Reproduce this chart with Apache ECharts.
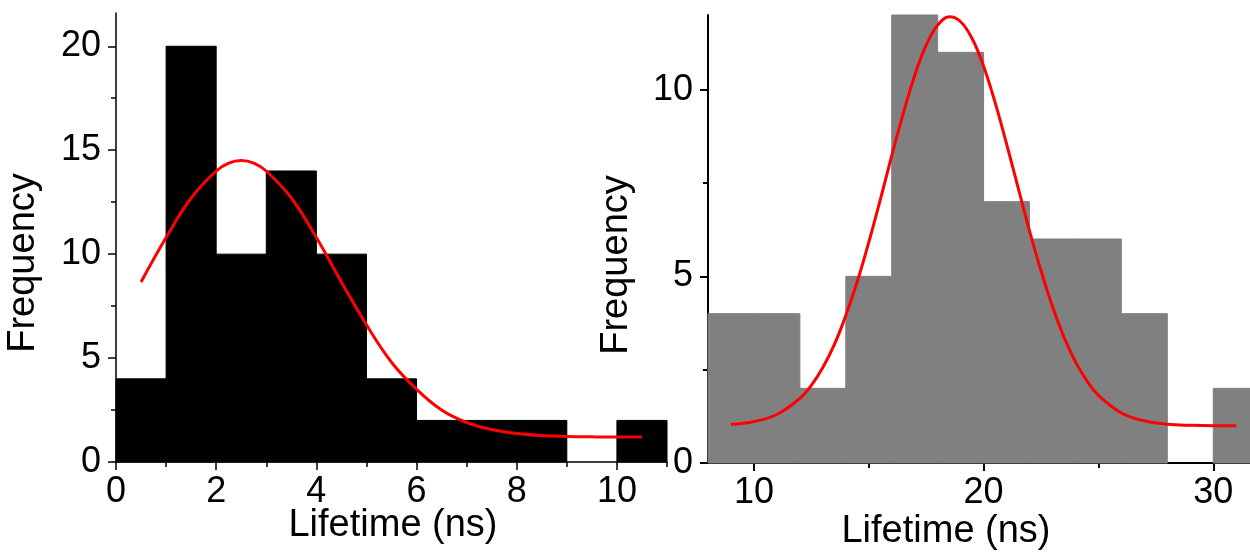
<!DOCTYPE html>
<html>
<head>
<meta charset="utf-8">
<script src="https://cdn.jsdelivr.net/npm/echarts@6/dist/echarts.min.js"></script>
<style>
html, body { margin: 0; padding: 0; background: #fff; }
#chart { width: 1250px; height: 554px; }
</style>
</head>
<body>
<div id="chart"></div>
<script>
'use strict';
// left histogram: bin edges and counts
var leftEdges = [0, 1, 2, 3, 4, 5, 6, 7, 8, 9, 10, 11];
var leftCounts = [4, 20, 10, 14, 10, 4, 2, 2, 2, 0, 2];
// right histogram
var rightEdges = [8, 10, 12, 14, 16, 18, 20, 22, 24, 26, 28, 30, 32];
var rightCounts = [4, 4, 2, 5, 12, 11, 7, 6, 6, 4, 0, 2];

// fitted curves
var leftFitX = [0.5, 1, 1.5, 2, 2.25, 2.5, 2.75, 3, 3.5, 4, 4.5, 5, 5.5, 6, 6.5, 7, 7.5, 8, 8.5, 9, 9.5, 10, 10.5];
var leftFitY = [8.66, 10.8, 12.7, 14.0, 14.38, 14.5, 14.38, 14.0, 12.7, 10.8, 8.66, 6.6, 4.8, 3.5, 2.5, 1.9, 1.56, 1.37, 1.27, 1.23, 1.21, 1.2, 1.2];
var rightFitX = [9, 10, 11, 12, 12.5, 13, 13.5, 14, 14.5, 15, 15.5, 16, 16.5, 17, 17.5, 18, 18.5, 19, 19.5, 20, 20.5, 21, 21.5, 22, 22.5, 23, 23.5, 24, 24.5, 25, 26, 27, 28, 29, 30, 31];
var rightFitY = [1.03, 1.11, 1.3, 1.73, 2.08, 2.56, 3.17, 3.95, 4.86, 5.91, 7.05, 8.23, 9.36, 10.38, 11.19, 11.73, 11.95, 11.82, 11.37, 10.63, 9.66, 8.55, 7.38, 6.22, 5.15, 4.19, 3.37, 2.71, 2.2, 1.81, 1.34, 1.13, 1.04, 1.01, 1.0, 1.0];

// ticks
var leftXMajor = [0, 2, 4, 6, 8, 10];
var leftXMinor = [1, 3, 5, 7, 9, 11];
var leftYMajor = [0, 5, 10, 15, 20];
var leftYMinor = [2.5, 7.5, 12.5, 17.5];
var rightXMajor = [10, 20, 30];
var rightXMinor = [15, 25];
var rightYMajor = [0, 5, 10];
var rightYMinor = [2.5, 7.5];

var FONT = "'Liberation Sans', Arial, sans-serif";

function bins(edges, counts) {
	var out = [];
	for (var i = 0; i < counts.length; i++) {
		out.push([edges[i], edges[i + 1], counts[i]]);
	}
	return out;
}
function pairs(xs, ys) {
	return xs.map(function (x, i) { return [x, ys[i]]; });
}
function barItem(params, api) {
	if (!api.value(2)) return null;
	var p0 = api.coord([api.value(0), api.value(2)]);
	var p1 = api.coord([api.value(1), 0]);
	var c = api.visual('color');
	return {
		type: 'rect',
		shape: { x: p0[0], y: p0[1], width: p1[0] - p0[0], height: p1[1] - p0[1] },
		style: { fill: c, stroke: c, lineWidth: 1 }
	};
}

function majorX(grid, min, max, vals, lw) {
	return {
		type: 'value', gridIndex: grid, position: 'bottom', min: min, max: max,
		splitLine: { show: false },
		axisLine: { show: true, onZero: false, lineStyle: { color: '#000', width: lw } },
		axisTick: { show: true, length: 8, customValues: vals, lineStyle: { color: '#000', width: lw } },
		axisLabel: { customValues: vals, margin: 12, color: '#000', fontSize: 36, fontFamily: FONT }
	};
}
function minorX(grid, min, max, vals, lw) {
	return {
		type: 'value', gridIndex: grid, position: 'bottom', min: min, max: max,
		splitLine: { show: false },
		axisLine: { show: false, onZero: false },
		axisTick: { show: true, length: 5, customValues: vals, lineStyle: { color: '#000', width: lw } },
		axisLabel: { show: false }
	};
}
function majorY(grid, max, vals, lw) {
	return {
		type: 'value', gridIndex: grid, position: 'left', min: 0, max: max,
		splitLine: { show: false },
		axisLine: { show: true, onZero: false, lineStyle: { color: '#000', width: lw } },
		axisTick: { show: true, length: 8, customValues: vals, lineStyle: { color: '#000', width: lw } },
		axisLabel: { customValues: vals, margin: 15, color: '#000', fontSize: 36, fontFamily: FONT }
	};
}
function minorY(grid, max, vals, lw) {
	return {
		type: 'value', gridIndex: grid, position: 'left', min: 0, max: max,
		splitLine: { show: false },
		axisLine: { show: false, onZero: false },
		axisTick: { show: true, length: 5, customValues: vals, lineStyle: { color: '#000', width: lw } },
		axisLabel: { show: false }
	};
}
function title(text, x, y, rot) {
	return {
		type: 'text', x: x, y: y, rotation: rot,
		style: { text: text, fill: '#000', fontSize: 38, fontFamily: FONT, align: 'center', verticalAlign: 'middle' }
	};
}

var myChart = echarts.init(document.getElementById('chart'));
var option = {
	animation: false,
	backgroundColor: '#fff',
	grid: [
		{ left: 116, top: 13, width: 551, bottom: 92 },
		{ left: 708, top: 15, right: 0, bottom: 91 }
	],
	xAxis: [
		majorX(0, 0, 11, leftXMajor, 1.5),
		minorX(0, 0, 11, leftXMinor, 1.5),
		majorX(1, 8, 31.6, rightXMajor, 2),
		minorX(1, 8, 31.6, rightXMinor, 2)
	],
	yAxis: [
		majorY(0, 21.6, leftYMajor, 1.5),
		minorY(0, 21.6, leftYMinor, 1.5),
		majorY(1, 12, rightYMajor, 2),
		minorY(1, 12, rightYMinor, 2)
	],
	series: [
		{
			type: 'custom', xAxisIndex: 0, yAxisIndex: 0, z: 1,
			renderItem: barItem, itemStyle: { color: '#000' },
			encode: { x: [0, 1], y: 2 },
			data: bins(leftEdges, leftCounts)
		},
		{
			type: 'line', xAxisIndex: 0, yAxisIndex: 0, smooth: 0.4, showSymbol: false, z: 3,
			lineStyle: { color: '#ff0000', width: 3 },
			data: pairs(leftFitX, leftFitY)
		},
		{
			type: 'custom', xAxisIndex: 2, yAxisIndex: 2, z: 1,
			renderItem: barItem, itemStyle: { color: '#808080' },
			encode: { x: [0, 1], y: 2 },
			data: bins(rightEdges, rightCounts)
		},
		{
			type: 'line', xAxisIndex: 2, yAxisIndex: 2, smooth: 0.4, showSymbol: false, z: 3,
			lineStyle: { color: '#ff0000', width: 3 },
			data: pairs(rightFitX, rightFitY)
		}
	],
	graphic: [
		title('Frequency', 24, 263, Math.PI / 2),
		title('Frequency', 617, 265, Math.PI / 2),
		title('Lifetime (ns)', 393, 526, 0),
		title('Lifetime (ns)', 946, 532, 0)
	]
};
myChart.setOption(option);
window.onresize = myChart.resize;
</script>
</body>
</html>
